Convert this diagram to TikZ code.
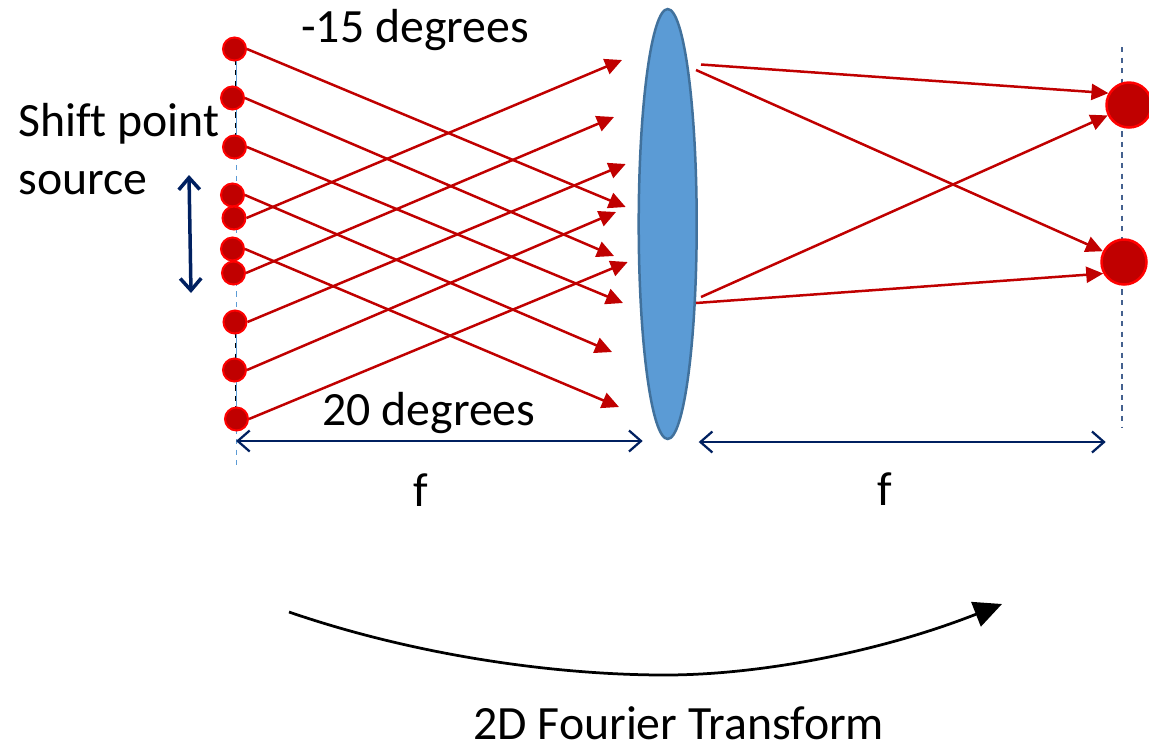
\documentclass[tikz,border=0pt]{standalone}
\usepackage{fontspec}
\setmainfont[Ligatures=NoCommon]{Carlito}
\usetikzlibrary{shapes.geometric,arrows.meta,calc}
\definecolor{raycol}{HTML}{C00000}
\definecolor{lenscol}{HTML}{5B9BD5}
\definecolor{lensedge}{HTML}{41719C}
\definecolor{navycol}{HTML}{002060}
\definecolor{planecol}{HTML}{44618F}
\tikzset{
  srcdot/.style={circle, draw=red, fill=raycol, line width=0.04cm, minimum size=0.46cm, inner sep=0pt},
  spotdot/.style={circle, draw=red, fill=raycol, line width=0.05cm, minimum size=0.9cm, inner sep=0pt},
  ray/.style={raycol, line width=0.05cm, -{Triangle[length=0.34cm,width=0.32cm]}},
  fspan/.style={navycol, line width=0.045cm, {Straight Barb[length=0.24cm,width=0.42cm]}-{Straight Barb[length=0.24cm,width=0.42cm]}},
  txtlabel/.style={font=\fontsize{27.2}{32}\selectfont, anchor=base west, inner sep=0pt}
}
\begin{document}
\begin{tikzpicture}[x=0.02cm, y=-0.02cm]
  \useasboundingbox (0,0) rectangle (1149,745);

  % Object plane
  \draw[lenscol, line width=0.03cm, dashed] (236.5,49) -- (236.5,467);
  \draw[lenscol, line width=0.03cm] (236.5,49) -- (236.5,147);
  \draw[lenscol, line width=0.03cm] (236.5,322) -- (236.5,419);
  \draw[black, line width=0.02cm, dashed] (235.5,49) -- (235.5,147);
  \draw[black, line width=0.02cm, dashed] (235.5,322) -- (235.5,419);

  % Fourier plane
  \draw[planecol, line width=0.03cm, dashed] (1122,47) -- (1122,427);

  % --- Point sources ---
  \node[srcdot] (s1) at (234.5,49) {};
  \node[srcdot] (s2) at (232.5,98) {};
  \node[srcdot] (s3) at (234.5,147) {};
  \node[srcdot] (s4) at (232.5,195) {};
  \node[srcdot] (s5) at (234,218) {};
  \node[srcdot] (s6) at (232.5,249) {};
  \node[srcdot] (s7) at (233.5,273) {};
  \node[srcdot] (s8) at (235,322) {};
  \node[srcdot] (s9) at (234.5,370) {};
  \node[srcdot] (s10) at (236.5,419) {};

  % --- Lens ---
  \node[ellipse, draw=lensedge, fill=lenscol, line width=0.05cm, minimum width=1.16cm, minimum height=8.6cm, inner sep=0pt] (lens) at (667.7,224) {};

  % --- Focal spots ---
  \node[spotdot] (b1) at (1129,105) {};
  \node[spotdot] (b2) at (1124,262) {};

  % Ray ends at the lens
  \coordinate (d1) at (625.7,207);
  \coordinate (d2) at (614,256);
  \coordinate (d3) at (623,303);
  \coordinate (d4) at (612,352);
  \coordinate (d5) at (619,407);
  \coordinate (u1) at (622,60);
  \coordinate (u2) at (614,117);
  \coordinate (u3) at (625.7,164);
  \coordinate (u4) at (616,212);
  \coordinate (u5) at (627.7,262);

  % --- -15 degree rays ---
  \draw[ray] (s1.east) -- (d1);
  \draw[ray] (s2.east) -- (d2);
  \draw[ray] (s3.east) -- (d3);
  \draw[ray] (s4.east) -- (d4);
  \draw[ray] (s6.east) -- (d5);

  % --- 20 degree rays ---
  \draw[ray] (s5.east) -- (u1);
  \draw[ray] (s7.east) -- (u2);
  \draw[ray] (s8.east) -- (u3);
  \draw[ray] (s9.east) -- (u4);
  \draw[ray] (s10.east) -- (u5);

  % --- Rays behind the lens ---
  \coordinate (r1) at (701,64.5);
  \coordinate (r2) at (696,70);
  \coordinate (r3) at (701,297);
  \coordinate (r4) at (696,303);
  \draw[ray] (r1) -- (b1.150);
  \draw[ray] (r2) -- (b2.153);
  \draw[ray] (r3) -- (b1.206);
  \draw[ray] (r4) -- (b2.209);

  % --- Focal length spans ---
  \coordinate (fa) at (236,441);
  \coordinate (fb) at (642.7,441);
  \coordinate (fc) at (698.7,442);
  \coordinate (fd) at (1105.7,442);
  \draw[fspan] (fa) -- (fb);
  \draw[fspan] (fc) -- (fd);

  % Shift arrow
  \coordinate (sa) at (189,175);
  \coordinate (sb) at (191,293);
  \draw[navycol, line width=0.07cm, {Straight Barb[length=0.24cm,width=0.42cm]}-{Straight Barb[length=0.24cm,width=0.42cm]}] (sa) -- (sb);

  % --- Transform arrow ---
  \coordinate (ta) at (289,612);
  \coordinate (tm) at (665,675);
  \coordinate (tb) at (1002,604);
  \draw[black, line width=0.055cm, -{Triangle[length=0.56cm,width=0.52cm]}] (ta) .. controls (420,657) and (560,675) .. (tm) .. controls (760,675) and (880,652) .. (tb);

  % Labels
  \node[txtlabel] (t15) at (301,42) {-15 degrees};
  \node[txtlabel] (tshift) at (18,136) {Shift point};
  \node[txtlabel] (tsource) at (18,194) {source};
  \node[txtlabel] (t20) at (322,425) {20 degrees};
  \node[txtlabel] (tf1) at (413,506) {f};
  \node[txtlabel] (tf2) at (877,505) {f};
  \node[txtlabel] (tft) at (473,739) {2D Fourier Transform};
\end{tikzpicture}
\end{document}
